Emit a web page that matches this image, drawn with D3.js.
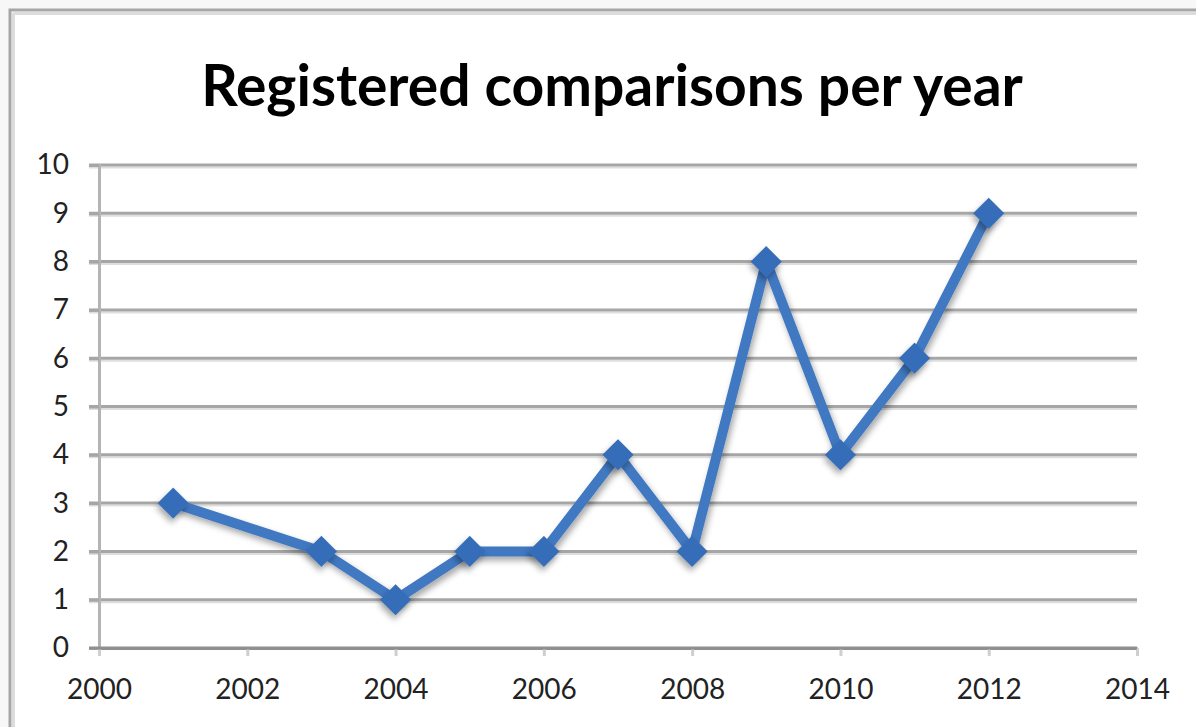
<!DOCTYPE html>
<html>
<head>
<meta charset="utf-8">
<script src="https://cdn.jsdelivr.net/npm/d3@7"></script>
<style>
  html, body { margin: 0; padding: 0; background: #f7f7f7; }
  svg { display: block; }
</style>
</head>
<body>
<div id="chart"></div>
<script>
// values
var years = [2001, 2003, 2004, 2005, 2006, 2007, 2008, 2009, 2010, 2011, 2012];
var counts = [3, 2, 1, 2, 2, 4, 2, 8, 4, 6, 9];
var xTicks = [2000, 2002, 2004, 2006, 2008, 2010, 2012, 2014];
var yTicks = [0, 1, 2, 3, 4, 5, 6, 7, 8, 9, 10];
var chartTitle = "Registered comparisons per year";

var W = 1196, H = 727;
var margin = {top: 165, right: 59, bottom: 79, left: 99},
    width = W - margin.left - margin.right,
    height = H - margin.top - margin.bottom;

var svg = d3.select("#chart")
    .append("svg")
    .attr("width", W)
    .attr("height", H);

// drop shadow used by the line and markers
var defs = svg.append("defs");
var f = defs.append("filter").attr("id", "shadow")
    .attr("x", "-50%").attr("y", "-50%").attr("width", "200%").attr("height", "200%");
f.append("feDropShadow")
    .attr("dx", 2).attr("dy", 4).attr("stdDeviation", 3)
    .attr("flood-color", "#000").attr("flood-opacity", 0.35);

// chart frame
svg.append("rect")
    .attr("x", 10).attr("y", 10)
    .attr("width", W + 20).attr("height", H + 20)
    .attr("fill", "#fff")
    .attr("stroke", "#a6a6a6")
    .attr("stroke-width", 3);
svg.append("line")
    .attr("x1", 13).attr("x2", W).attr("y1", 13.5).attr("y2", 13.5)
    .attr("stroke", "#dcdcdc").attr("stroke-width", 3);
svg.append("line")
    .attr("x1", 13.5).attr("x2", 13.5).attr("y1", 13).attr("y2", H)
    .attr("stroke", "#dcdcdc").attr("stroke-width", 3);

svg.append("text")
    .attr("x", 612)
    .attr("y", 106)
    .attr("text-anchor", "middle")
    .style("font-family", "Lato, 'Open Sans', sans-serif")
    .style("font-weight", "bold")
    .style("font-size", "57px")
    .attr("fill", "#000")
    .text(chartTitle);

var g = svg.append("g")
    .attr("transform", "translate(" + margin.left + "," + margin.top + ")");

var x = d3.scaleLinear().domain([2000, 2014]).range([0, width]);
var y = d3.scaleLinear().domain([0, 10]).range([height, 0]);

// horizontal gridlines with a light underline
var grid = g.append("g");
grid.selectAll("line.shade")
    .data(yTicks.filter(function (d) { return d > 0; }))
    .enter().append("line")
    .attr("x1", -10).attr("x2", width)
    .attr("y1", function (d) { return y(d) + 2.5; })
    .attr("y2", function (d) { return y(d) + 2.5; })
    .attr("stroke", "#dedede").attr("stroke-width", 2);
grid.selectAll("line.main")
    .data(yTicks.filter(function (d) { return d > 0; }))
    .enter().append("line")
    .attr("x1", -10).attr("x2", width)
    .attr("y1", function (d) { return y(d); })
    .attr("y2", function (d) { return y(d); })
    .attr("stroke", "#a6a6a6").attr("stroke-width", 3);

// y axis
var yAxis = g.append("g")
    .call(d3.axisLeft(y).tickValues(yTicks).tickSize(10).tickPadding(20).tickFormat(d3.format("d")));
yAxis.select(".domain").attr("stroke", "#b4b4b4").attr("stroke-width", 3);
yAxis.selectAll(".tick line").attr("stroke", "#a6a6a6").attr("stroke-width", 3);

// x axis
var xAxis = g.append("g")
    .attr("transform", "translate(0," + height + ")")
    .call(d3.axisBottom(x).tickValues(xTicks).tickSize(8).tickSizeOuter(0).tickPadding(23).tickFormat(d3.format("d")));
xAxis.select(".domain").attr("stroke", "#8f8f8f").attr("stroke-width", 3);
xAxis.selectAll(".tick line").attr("stroke", "#cfcfcf").attr("stroke-width", 3);

// zero line extends left like the gridlines
g.append("line")
    .attr("x1", -10).attr("x2", width).attr("y1", height).attr("y2", height)
    .attr("stroke", "#8f8f8f").attr("stroke-width", 3);

svg.selectAll(".tick text")
    .style("font-family", "Lato, 'Open Sans', sans-serif")
    .style("font-size", "28px")
    .attr("fill", "#222");

// data line
var pts = years.map(function (d, i) { return [d, counts[i]]; });
var line = d3.line()
    .x(function (d) { return x(d[0]); })
    .y(function (d) { return y(d[1]); });

g.append("path")
    .datum(pts)
    .attr("d", line)
    .attr("fill", "none")
    .attr("stroke", "#3f78c1")
    .attr("stroke-width", 10)
    .attr("stroke-linejoin", "round")
    .attr("filter", "url(#shadow)");

// square marker turned 45 degrees = diamond
var marker = d3.symbol().type(d3.symbolSquare).size(484);
g.append("g")
    .selectAll("path")
    .data(pts)
    .enter()
    .append("path")
    .attr("d", marker)
    .attr("transform", function (d) { return "translate(" + x(d[0]) + "," + y(d[1]) + ") rotate(45)"; })
    .attr("fill", "#356db8")
    .attr("filter", "url(#shadow)");
</script>
</body>
</html>
